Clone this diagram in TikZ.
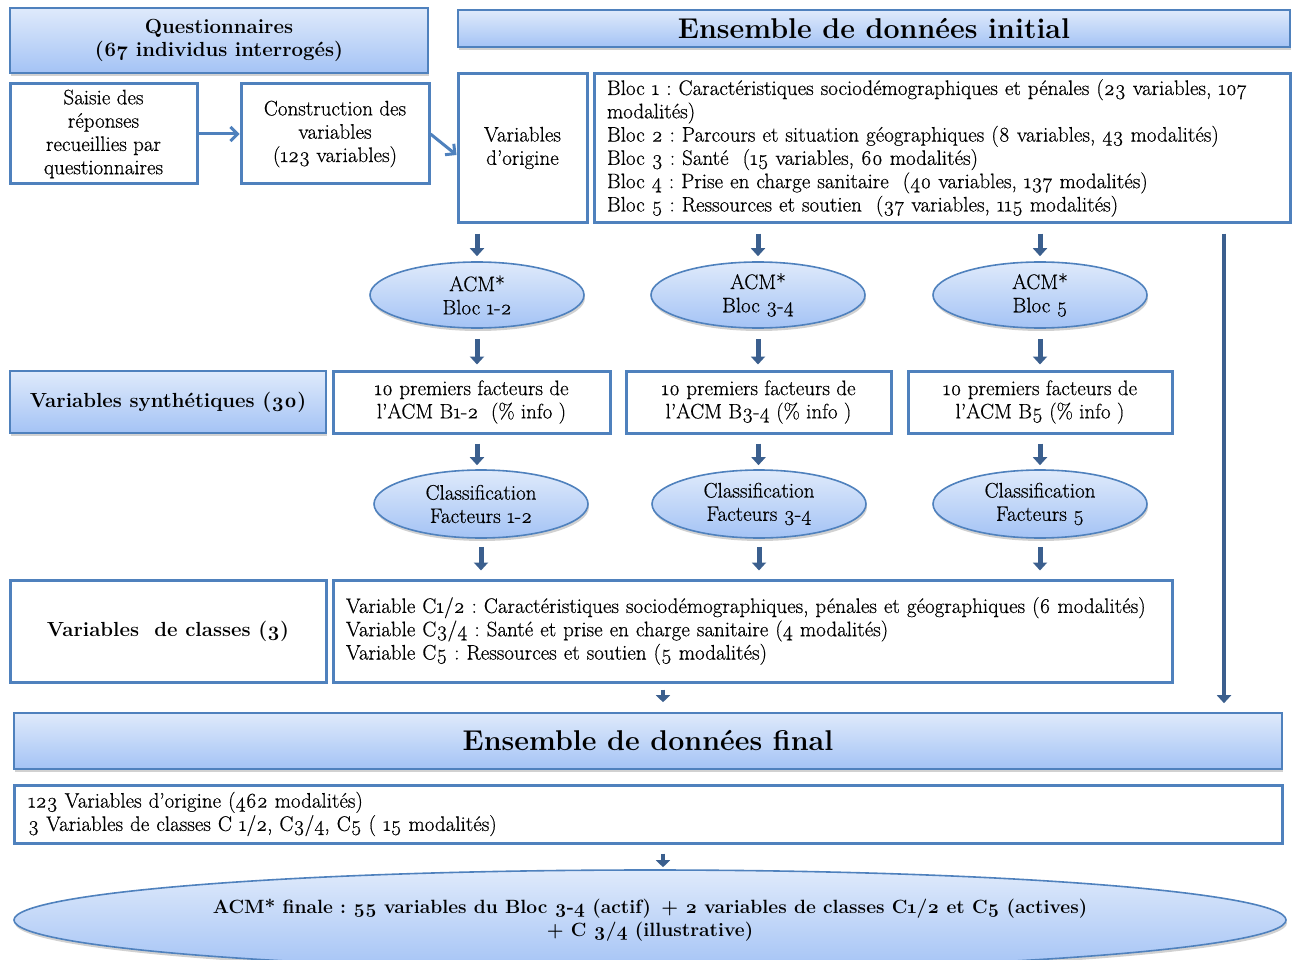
\documentclass[tikz,border=0pt]{standalone}
\usepackage{fontspec}
\setmainfont{Latin Modern Roman}[Numbers=OldStyle, UprightFeatures={FakeBold=0.5}]
\usetikzlibrary{shapes.geometric,arrows.meta,shadows}
\definecolor{bord}{HTML}{4F81BD}
\definecolor{dark}{HTML}{3B5F8E}
\definecolor{gtop}{HTML}{DFEAFB}
\definecolor{gbot}{HTML}{A4C3F5}
\tikzset{
  txt/.style={font=\fontsize{21}{23.3}\selectfont},
  btxt/.style={font=\fontsize{20.4}{23.3}\selectfont\bfseries},
  htxt/.style={font=\fontsize{28.6}{31}\selectfont\bfseries},
  wbox/.style={txt, draw=bord, line width=3pt, fill=white, inner sep=0pt, align=center},
  gbox/.style={txt, draw=bord, line width=1.6pt, top color=gtop, bottom color=gbot, inner sep=0pt, align=center,
     drop shadow={opacity=0.3, shadow xshift=1pt, shadow yshift=-3pt, fill=black!60}},
  gell/.style={gbox, ellipse, line width=1.6pt},
  darr/.style={draw=dark, line width=5pt, -{Triangle[width=14pt,length=8pt]}},
  sarr/.style={draw=dark, line width=4pt, -{Triangle[width=14pt,length=7pt]}},
  barr/.style={draw=bord, line width=3pt, -{Straight Barb[length=7pt,width=14pt]}},
}
\begin{document}
\frenchspacing
\begin{tikzpicture}[x=1pt,y=-1pt]
\useasboundingbox (0,0) rectangle (1295,960);
% top row
\node[gbox, btxt, minimum width=418pt, minimum height=65pt] (q) at (219,40.5) {Questionnaires\\(67 individus interrogés)};
\node[gbox, htxt, minimum width=832pt, minimum height=37pt] (ei) at (874,28.5) {Ensemble de données initial};
\node[wbox, minimum width=187pt, minimum height=100pt] (saisie) at (103.5,134) {Saisie des\\réponses\\recueillies par\\questionnaires};
\node[wbox, minimum width=188pt, minimum height=100pt] (constr) at (335,134) {Construction des\\variables\\(123 variables)};
\node[wbox, minimum width=129pt, minimum height=148pt] (vo) at (522.5,148) {Variables\\d’origine};
\node[wbox, minimum width=696pt, minimum height=148pt, align=left, text width=670pt] (bloc) at (942,148) {Bloc 1 : Caractéristiques sociodémographiques et pénales (23 variables, 107\\modalités)\\Bloc 2 : Parcours et situation géographiques (8 variables, 43 modalités)\\Bloc 3 : Santé\ \ (15 variables, 60 modalités)\\Bloc 4 : Prise en charge sanitaire\ \ (40 variables, 137 modalités)\\Bloc 5 : Ressources et soutien\ \ (37 variables, 115 modalités)};
% ACM ellipses
\node[gell, minimum width=214pt, minimum height=66pt] (acm1) at (477,295) {ACM*\\Bloc 1-2};
\node[gell, minimum width=214pt, minimum height=66pt] (acm2) at (758,295) {ACM*\\Bloc 3-4};
\node[gell, minimum width=214pt, minimum height=66pt] (acm3) at (1040,295) {ACM*\\Bloc 5};
% factors row
\node[gbox, btxt, minimum width=316pt, minimum height=62pt] (vs) at (168,402) {Variables synthétiques (30)};
\node[wbox, minimum width=277pt, minimum height=62pt] (f1) at (471.5,402) {10 premiers facteurs de\\l’ACM B1-2\ \ (\% info )};
\node[wbox, minimum width=265pt, minimum height=62pt] (f2) at (758.5,402) {10 premiers facteurs de\\l’ACM B3-4 (\% info )};
\node[wbox, minimum width=264pt, minimum height=62pt] (f3) at (1040,402) {10 premiers facteurs de\\l’ACM B5 (\% info )};
% classification ellipses
\node[gell, minimum width=214pt, minimum height=68pt] (c1) at (481,504) {Classification\\Facteurs 1-2};
\node[gell, minimum width=214pt, minimum height=68pt] (c2) at (759,504) {Classification\\Facteurs 3-4};
\node[gell, minimum width=214pt, minimum height=68pt] (c3) at (1040,504) {Classification\\Facteurs 5};
% classes row
\node[wbox, btxt, minimum width=316pt, minimum height=102pt] (vclass) at (168,631) {Variables\ \ de classes (3)};
\node[wbox, minimum width=839pt, minimum height=102pt, align=left, text width=813pt] (vc) at (752.5,631) {Variable C1/2 : Caractéristiques sociodémographiques, pénales et géographiques (6 modalités)\\Variable C3/4 : Santé et prise en charge sanitaire (4 modalités)\\Variable C5 : Ressources et soutien (5 modalités)};
% final
\node[gbox, htxt, minimum width=1268pt, minimum height=56pt] (final) at (648,741) {Ensemble de données final};
\node[wbox, minimum width=1268pt, minimum height=58pt, align=left, text width=1240pt] (b123) at (648,814) {123 Variables d’origine (462 modalités)\\3 Variables de classes C 1/2, C3/4, C5 ( 15 modalités)};
\node[gell, minimum width=1272pt, minimum height=100pt, font=\fontsize{19.2}{23.3}\selectfont\bfseries] (acmf) at (650,920) {ACM* finale : 55 variables du Bloc 3-4 (actif)\, + 2 variables de classes C1/2 et C5 (actives)\\+ C 3/4 (illustrative)};
% connectors
\draw[barr] (saisie.east) -- (constr.west);
\draw[barr] (constr.east) -- ([yshift=-7pt]vo.west);
\draw[darr, shorten <=10pt, shorten >=5pt] (acm1.north |- vo.south) -- (acm1.north);
\draw[darr, shorten <=10pt, shorten >=5pt] (acm2.north |- bloc.south) -- (acm2.north);
\draw[darr, shorten <=10pt, shorten >=5pt] (acm3.north |- bloc.south) -- (acm3.north);
\draw[darr, shorten <=10pt, shorten >=5pt] (acm1.south) -- (acm1.south |- f1.north);
\draw[darr, shorten <=10pt, shorten >=5pt] (acm2.south) -- (acm2.south |- f2.north);
\draw[darr, shorten <=10pt, shorten >=5pt] (acm3.south) -- (acm3.south |- f3.north);
\draw[darr, shorten <=9pt, shorten >=4pt] (acm1.south |- f1.south) -- (acm1.south |- c1.north);
\draw[darr, shorten <=9pt, shorten >=4pt] (f2.south) -- (f2.south |- c2.north);
\draw[darr, shorten <=9pt, shorten >=4pt] (acm3.south |- f3.south) -- (acm3.south |- c3.north);
\draw[darr, shorten <=8pt, shorten >=8pt] (c1.south) -- (c1.south |- vc.north);
\draw[darr, shorten <=8pt, shorten >=8pt] (c2.south) -- (c2.south |- vc.north);
\draw[darr, shorten <=8pt, shorten >=8pt] (c3.south) -- (c3.south |- vc.north);
\coordinate (rx) at (1224,0);
\coordinate (mx) at (663,0);
\draw[darr, line width=4.5pt, shorten <=10pt, shorten >=9pt] (rx |- bloc.south) -- (rx |- final.north);
\draw[sarr, shorten <=6pt, shorten >=10pt] (mx |- vc.south) -- (mx |- final.north);
\draw[sarr, shorten <=9pt, shorten >=2pt] (mx |- b123.south) -- (mx |- acmf.north);
\end{tikzpicture}
\end{document}
